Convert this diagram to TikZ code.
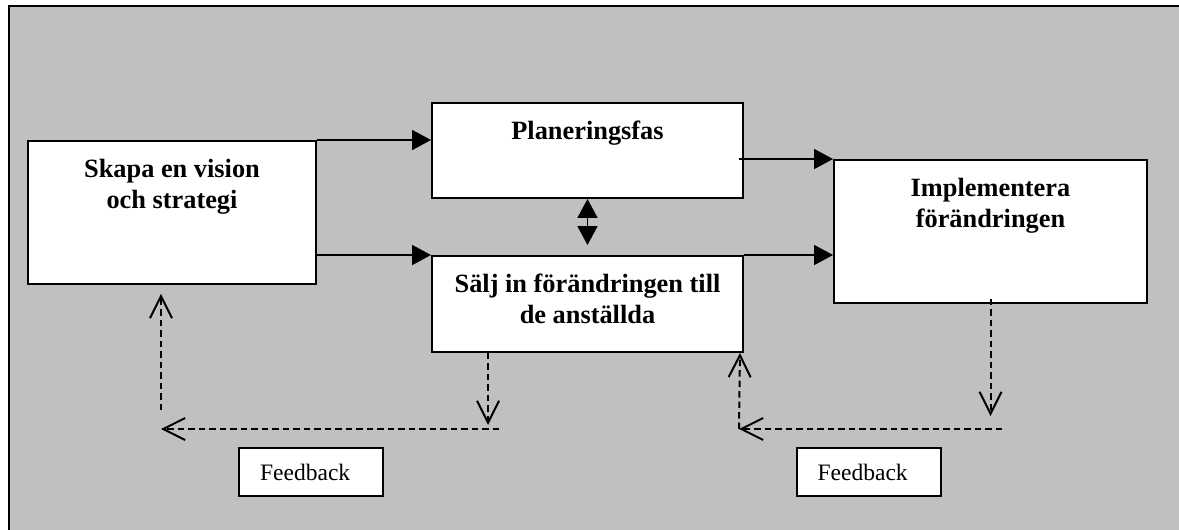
\documentclass[tikz,border=0pt]{standalone}
\usepackage{fontspec}
\setmainfont{Liberation Serif}
\usetikzlibrary{arrows.meta,calc}

\definecolor{bggray}{RGB}{192,192,192}

\tikzstyle{box} = [rectangle, draw=black, fill=white, line width=0.04cm, inner sep=0pt]
\tikzstyle{title} = [anchor=north, align=center, inner sep=0pt, font=\fontsize{15}{17.6}\selectfont\bfseries]
\tikzstyle{fb} = [rectangle, draw=black, fill=white, line width=0.04cm, minimum width=2.88cm, minimum height=0.96cm, text width=2.04cm, inner xsep=0.42cm, align=left, font=\fontsize{13.4}{16}\selectfont]

\begin{document}
\begin{tikzpicture}[x=0.02cm, y=-0.02cm]
  \tikzset{flow/.style={line width=0.036cm, -{Triangle[length=0.38cm, width=0.4cm]}},
           both/.style={line width=0.036cm, {Triangle[length=0.38cm, width=0.4cm]}-{Triangle[length=0.38cm, width=0.4cm]}},
           back/.style={line width=0.04cm, dash pattern=on 0.13cm off 0.08cm, -{Straight Barb[length=0.44cm, width=0.44cm]}}}

  \useasboundingbox (0,0) rectangle (1179,530);
  \begin{scope}
    \clip (0,0) rectangle (1179,530);
    \fill[bggray] (9,6) rectangle (1200,550);
    \draw[line width=0.04cm] (9,550) -- (9,6) -- (1200,6);
  \end{scope}

  \node[box, minimum width=5.76cm, minimum height=2.86cm] (vision) at (172,212.5) {};
  \node[box, minimum width=6.22cm, minimum height=1.9cm] (plan) at (587.5,150.5) {};
  \node[box, minimum width=6.22cm, minimum height=1.92cm] (salj) at (587.5,304) {};
  \node[box, minimum width=6.26cm, minimum height=2.86cm] (impl) at (990.5,231.5) {};

  \node[title] (visiontext) at ([yshift=-0.37cm]vision.north) {Skapa en vision\\och strategi};
  \node[title] (plantext) at ([yshift=-0.37cm]plan.north) {Planeringsfas};
  \node[title] (saljtext) at ([yshift=-0.37cm]salj.north) {Sälj in förändringen till\\de anställda};
  \node[title] (impltext) at ([yshift=-0.37cm]impl.north) {Implementera\\förändringen};

  \draw[flow] (vision.north east) -- (vision.north east -| plan.west);
  \draw[flow] (salj.north west -| vision.east) -- (salj.north west);
  \draw[flow] ([xshift=-0.1cm]plan.east |- impl.north west) -- (impl.north west);
  \draw[flow] (salj.north east) -- (salj.north east -| impl.west);
  \draw[both] (plan.south) -- ([yshift=0.2cm]salj.north);

  \coordinate (leftup) at (161,410);
  \coordinate (leftcorner) at (161,429);
  \coordinate (leftend) at (499,429);
  \coordinate (rightcorner) at (739,429);
  \coordinate (rightend) at (1002,429);

  \draw[back] (leftup) -- ([yshift=-0.18cm]vision.south -| leftup);
  \draw[back] (leftend) -- (leftcorner);
  \draw[back] ([xshift=1.14cm]salj.south west) -- ++(0,72);
  \draw[back] (rightcorner) -- ([xshift=-0.08cm]salj.south east);
  \draw[back] (rightend) -- (rightcorner);
  \draw[back] ([yshift=0.1cm]impl.south) -- ++(0,117);

  \node[fb] (fbA) at (311,472) {Feedback};
  \node[fb] (fbB) at (868.5,472) {Feedback};
\end{tikzpicture}
\end{document}
